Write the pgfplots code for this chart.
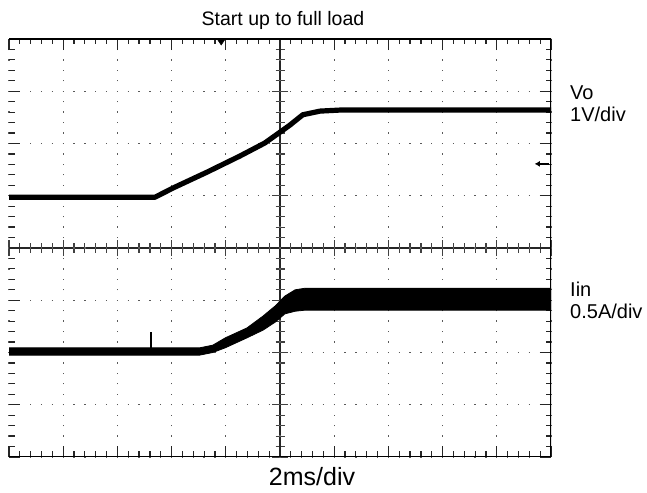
\documentclass[border=0pt]{standalone}
\usepackage{fontspec}
\setmainfont{Liberation Sans}
\usepackage{pgfplots}
\pgfplotsset{compat=1.18}
\usetikzlibrary{arrows.meta}

% screen geometry: 10 x 8 divisions
\pgfplotsset{
  scopescreen/.style={
    scale only axis,
    width=542pt, height=418pt,
    at={(0,0)}, anchor=south west,
    xmin=-5, xmax=5, ymin=-4, ymax=4,
    xtick={-5,-4,...,5}, ytick={-4,-3,...,4},
    minor tick num=4,
    xticklabels={}, yticklabels={},
  },
}

\begin{document}
\begin{tikzpicture}
\path[use as bounding box] (-9pt,-35pt) rectangle (638pt,457pt);

% centre cross with its graduations
\begin{axis}[scopescreen,
  axis lines=middle,
  every inner x axis line/.append style={-},
  every inner y axis line/.append style={-},
  axis line style={black!85, line width=1.2pt},
  tick align=center,
  major tick length=16pt, minor tick length=9pt,
  every tick/.style={black!75, line width=1.2pt},
]
\end{axis}

% screen frame, edge graduations, dotted graticule and traces
\begin{axis}[scopescreen,
  axis line style={draw=none},
  tick align=inside,
  major tick length=11pt, minor tick length=5.5pt,
  every tick/.style={black!85, line width=1.2pt},
  grid=major,
  every axis x grid/.append style={black!65, line width=1.3pt,
    dash pattern=on 1.3pt off 9.15pt, dash phase=0.65pt},
  every axis y grid/.append style={black!65, line width=1.3pt,
    dash pattern=on 1.3pt off 9.54pt, dash phase=0.65pt},
]
% output voltage Vo
\addplot[black, line width=5.2pt, line join=round] coordinates {
  (-5.2,0.97) (-2.31,0.97) (-1.97,1.15) (-1.35,1.45) (-0.74,1.76)
  (-0.28,2.01) (0.18,2.35) (0.42,2.55) (0.74,2.62) (1.11,2.64) (5.2,2.64)
};
% input current Iin (ripple envelope)
\addplot[fill=black, draw=black, line width=0.8pt] coordinates {
  (-5.2,-1.91) (-1.48,-1.91) (-1.24,-1.86) (-1.01,-1.72) (-0.61,-1.53)
  (-0.31,-1.30) (-0.09,-1.11) (0.09,-0.92) (0.28,-0.80) (0.46,-0.77)
  (5.2,-0.77)
  (5.2,-1.19) (0.46,-1.19) (0.28,-1.21) (0.09,-1.26) (-0.09,-1.42)
  (-0.31,-1.57) (-0.61,-1.72) (-1.01,-1.91) (-1.24,-2.0) (-1.48,-2.05)
  (-5.2,-2.05)
} -- cycle;
% current spike
\addplot[black, line width=1.2pt] coordinates {(-2.38,-2.0) (-2.38,-1.61)};
% trigger position and level markers
\addplot[fill=black, draw=black, line width=0.5pt] coordinates {
  (-1.16,4) (-1.01,4) (-1.085,3.885)} -- cycle;
\addplot[black, line width=1.3pt, -{Latex[length=5pt,width=6pt]}]
  coordinates {(4.96,1.61) (4.70,1.61)};
% frame (top, right, bottom)
\draw[black, line width=1.6pt] (rel axis cs:0,1) -- (rel axis cs:1,1)
  -- (rel axis cs:1,0) -- (rel axis cs:0,0);
\end{axis}

\begin{scope}[every node/.style={inner sep=0pt}]
\node[anchor=base, font=\fontsize{19.5}{24}\selectfont] at (274pt,431pt) {Start up to full load};
\begin{scope}[every node/.append style={font=\fontsize{20}{24}\selectfont}]
\node[anchor=base west] at (561pt,357pt) {Vo};
\node[anchor=base west] at (561pt,335pt) {1V/div};
\node[anchor=base west] at (561pt,160pt) {Iin};
\node[anchor=base west] at (561pt,138pt) {0.5A/div};
\end{scope}
\node[anchor=base, font=\fontsize{25}{30}\selectfont] at (303pt,-28pt) {2ms/div};
\end{scope}
\end{tikzpicture}
\end{document}
